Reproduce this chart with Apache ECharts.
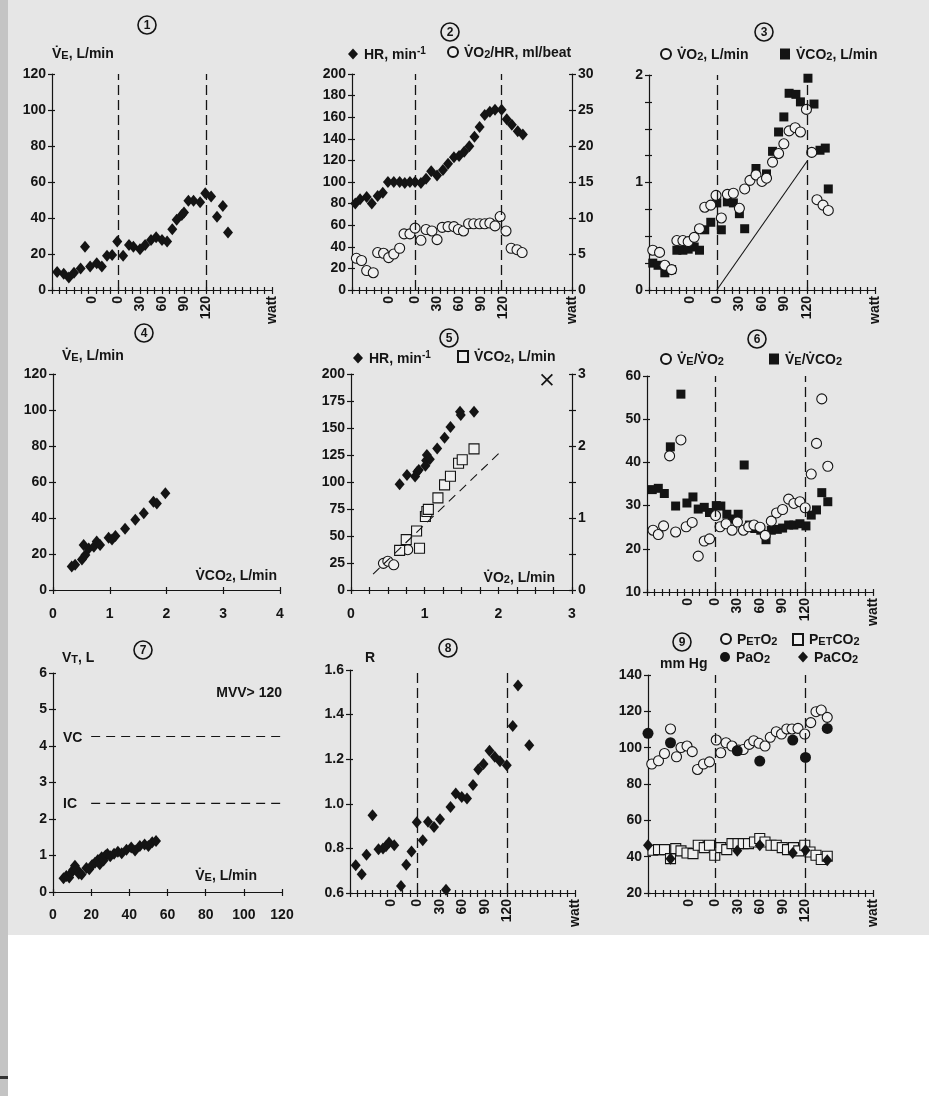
<!DOCTYPE html>
<html>
<head>
<meta charset="utf-8">
<script src="https://cdn.jsdelivr.net/npm/echarts@6/dist/echarts.min.js"></script>
<style>
html, body {margin:0; padding:0; background:#fff;}
#chart {width:929px; height:1096px;}
</style>
</head>
<body>
<div id="chart"></div>
<script>
var FONT = '"Liberation Sans", Arial, Helvetica, sans-serif';
var INK = '#141414';
var PAPER = '#e6e6e6';

// time axes are in tick units (30 ticks), labels show watt
var time_labels = ['0', '0', '30', '60', '90', '120', 'watt'];

// panel 1: VE vs time
var p1_t = [0.7,1.6,2.3,3,3.9,4.5,5.2,6.1,6.8,7.5,8.2,8.9,9.7,10.5,11.1,12,12.7,13.5,14.2,15,15.7,16.4,17,17.7,18,18.6,19.3,20.2,20.9,21.7,22.5,23.3,24];
var p1_ve = [10,9,7,9.6,12,24,13,14.8,13,19,19.4,27,19,25,24,22.6,25,27.8,29.3,27.8,27,33.7,39,41.7,43,49.6,49.6,48.7,53.7,52,40.7,46.7,32];

// panel 2: HR and O2 pulse vs time
var p2_hr_t = [0.45,1.1,2,2.7,3.5,4.2,4.9,5.7,6.5,7.2,7.9,8.6,9.4,10.1,10.8,11.6,12.4,13.1,13.9,14.6,15.3,16,16.7,17.4,18.1,18.8,19.5,20.4,21.1,21.8,22.6,23.3];
var p2_hr = [80,84,86,80,87,90,100,100,100,99,100,100,99,103,110,106,111,117,123,124,128,133,142,151,162,165,167,167,158,153,147,144];
var p2_op_t = [0.6,1.3,2,2.9,3.5,4.3,5,5.7,6.5,7.1,7.9,8.6,9.4,10.1,10.9,11.6,12.3,13.1,13.9,14.5,15.2,15.9,16.6,17.4,18.1,18.8,19.5,20.2,21,21.7,22.5,23.2];
var p2_op = [4.4,4.1,2.7,2.4,5.2,5.1,4.5,5.0,5.8,7.8,7.8,8.6,6.9,8.4,8.2,7.0,8.7,8.8,8.8,8.4,8.2,9.2,9.2,9.2,9.2,9.3,8.9,10.2,8.2,5.8,5.6,5.2];

// panel 3: VO2 and VCO2 vs time
var p3_o2_t = [0.5,1.4,2.1,3,3.7,4.5,5.2,6,6.7,7.4,8.2,8.9,9.6,10.4,11.2,12,12.7,13.4,14.2,15,15.6,16.4,17.2,17.9,18.6,19.4,20.1,20.9,21.6,22.3,23.1,23.8];
var p3_o2 = [0.37,0.35,0.23,0.19,0.46,0.46,0.45,0.49,0.57,0.77,0.79,0.88,0.67,0.89,0.9,0.76,0.94,1.02,1.07,1.01,1.04,1.19,1.27,1.36,1.48,1.51,1.47,1.68,1.28,0.84,0.79,0.74];
var p3_co2_t = [0.5,1.2,2.1,3,3.7,4.5,5.2,6,6.7,7.4,8.2,9,9.6,10.4,11.2,12,12.7,14.2,15.6,16.4,17.2,17.9,18.6,19.5,20.1,21.1,21.9,22.7,23.4,23.8];
var p3_co2 = [0.25,0.23,0.16,0.19,0.37,0.37,0.38,0.4,0.37,0.56,0.63,0.81,0.56,0.82,0.81,0.71,0.57,1.13,1.08,1.29,1.47,1.61,1.83,1.82,1.75,1.97,1.73,1.3,1.32,0.94];
var p3_line_x = [9, 21];
var p3_line_y = [0, 1.2];

// panel 4: VE vs VCO2
var p4_co2 = [0.33,0.39,0.51,0.57,0.54,0.63,0.72,0.77,0.83,0.98,1.04,1.1,1.27,1.45,1.6,1.77,1.83,1.98];
var p4_ve = [13,14,17,19.4,25,23,24,27,25,29,28,30,34,39,42.6,49,48,53.7];

// panel 5: HR and VCO2 vs VO2
var p5_hr_o2 = [0.66,0.76,0.87,0.9,0.92,1.01,1.02,1.03,1.07,1.17,1.27,1.35,1.48,1.49,1.67];
var p5_hr = [98,106.5,105,109.6,111,115,120,125,121,131,141,151,165,162,165];
var p5_co2_o2 = [0.66,0.75,0.89,0.93,1.01,1.03,1.05,1.18,1.27,1.35,1.46,1.51,1.67];
var p5_co2 = [0.55,0.70,0.82,0.58,1.02,1.09,1.12,1.28,1.46,1.58,1.76,1.81,1.96];
var p5_rest_o2 = [0.44,0.5,0.58,0.77];
var p5_rest_co2 = [0.37,0.40,0.35,0.56];
var p5_ref_x = [0.3, 2.03];
var p5_ref_y = [0.22, 1.92];
var p5_cross = [[2.66, 2.92]];

// panel 6: ventilatory equivalents vs time
var p6_o2_t = [0.8,1.5,2.2,3,3.8,4.5,5.2,6,6.8,7.6,8.3,9.1,9.7,10.5,11.3,12,12.8,13.5,14.2,15,15.7,16.5,17.2,18,18.8,19.5,20.3,21,21.8,22.5,23.2,24];
var p6_o2 = [24.3,23.3,25.3,41.5,23.9,45.2,25.1,26.1,18.3,21.8,22.3,27.7,25.1,25.8,24.3,26.2,24.3,25.1,25.5,25,23.1,26.4,28.3,29.1,31.5,30.5,30.9,29.5,37.3,44.4,54.7,39.1];
var p6_co2_t = [0.7,1.5,2.3,3.1,3.8,4.5,5.3,6.1,6.8,7.6,8.3,9.2,9.8,10.6,11.3,12.1,12.9,13.6,14.3,15.1,15.8,16.5,17.3,18,18.8,19.5,20.3,21.1,21.8,22.5,23.2,24];
var p6_co2 = [33.7,34,32.8,43.6,29.9,55.8,30.6,32,29.2,29.6,28.4,30,29.9,28,26.9,28,39.4,25.5,24.7,24.3,22.1,24.3,24.5,24.8,25.5,25.5,25.8,25.3,27.8,29,33,30.9];

// panel 7: VT vs VE
var p7_ve = [5.5,7,8.5,9.5,10.5,11.5,12.5,13.5,15,17.5,19,20.5,22,23.5,24.5,25.5,26.5,27.5,28.5,30,32,34,36,38.5,41,43,45.5,48,50,52,54];
var p7_vt = [0.38,0.44,0.40,0.52,0.60,0.72,0.62,0.50,0.48,0.66,0.62,0.74,0.80,0.88,0.76,0.95,0.86,1.0,1.04,0.98,1.05,1.1,1.06,1.16,1.22,1.14,1.26,1.30,1.26,1.36,1.40];
var p7_vc = 4.26, p7_ic = 2.43;

// panel 8: R vs time
var p8_t = [0.76,1.56,2.2,3,3.8,4.4,4.8,5.2,5.9,6.8,7.5,8.2,8.9,9.7,10.4,11.2,12,12.8,13.4,14.1,14.9,15.6,16.4,17.1,17.8,18.6,19.3,20,20.9,21.7,22.4,23.9];
var p8_r = [0.724,0.684,0.772,0.949,0.796,0.799,0.81,0.826,0.814,0.631,0.727,0.786,0.917,0.837,0.919,0.896,0.931,0.615,0.986,1.046,1.031,1.024,1.084,1.154,1.178,1.238,1.211,1.191,1.173,1.349,1.531,1.263];

// panel 9: gas tensions vs time
var p9_peto2_t = [0.5,1.4,2.2,3,3.8,4.4,5.2,5.9,6.6,7.4,8.2,9.1,9.7,10.4,11.2,12.1,12.7,13.5,14.1,14.8,15.6,16.3,17.1,17.8,18.5,19.2,20,20.9,21.7,22.4,23.1,23.9];
var p9_peto2 = [91,92.8,96.8,110.3,95,100.1,100.9,97.8,88,91,92.2,104.2,97.2,102.7,100.9,98.7,99,101.8,103.8,102.4,100.9,105.7,108.8,107.5,110.3,110.3,110.6,107.5,113.8,119.8,120.7,116.7];
var p9_pao2_t = [0, 3, 11.9, 14.9, 19.3, 21, 23.9];
var p9_pao2 = [107.9, 102.7, 98.3, 92.6, 104.2, 94.6, 110.6];
var p9_petco2_t = [0.66,1.4,2.2,3,3.7,4.4,5.2,6,6.7,7.5,8.2,8.9,9.7,10.5,11.2,12,12.7,13.4,14.2,14.9,15.6,16.4,17.1,17.9,18.6,19.4,20.1,20.9,21.6,22.4,23.1,23.9];
var p9_petco2 = [43.5,43.9,43.9,38.9,44.4,43.2,42,41.7,46.3,45,46.3,40.8,45,43.9,47.2,47.2,47.2,47.2,48.1,50,48.1,46.3,46.3,45,43.9,45,43.2,46.3,42.6,40.8,38.4,40.2];
var p9_paco2_t = [0, 3, 11.9, 14.9, 19.3, 21, 23.9];
var p9_paco2 = [46.3, 38.9, 43.2, 46.3, 42, 43.5, 38];

function pts(xs, ys) {
	var out = [];
	for (var i = 0; i < xs.length; i++) out.push([xs[i], ys[i]]);
	return out;
}

function time_axis(grid_id, zero2) {
	var pos = [zero2 - 3.5, zero2, zero2 + 3, zero2 + 6, zero2 + 9, zero2 + 12, 30];
	return {
		type: 'value', gridIndex: grid_id, min: 0, max: 30, interval: 1, position: 'bottom',
		axisLine: {show: true, onZero: false, lineStyle: {color: INK, width: 1.2}},
		axisTick: {show: true, length: 4, lineStyle: {color: INK, width: 1.2}},
		splitLine: {show: false},
		axisLabel: {
			customValues: pos, rotate: 90, margin: 6, color: INK,
			fontSize: 14, fontWeight: 'bold', fontFamily: FONT,
			formatter: function (v) {
				for (var i = 0; i < pos.length; i++) if (Math.abs(pos[i] - v) < 1e-6) return time_labels[i];
				return '';
			}
		}
	};
}

function val_axis(grid_id, min, max, interval, opts) {
	opts = opts || {};
	var ax = {
		type: 'value', gridIndex: grid_id, min: min, max: max, interval: interval,
		position: opts.position,
		axisLine: {show: true, onZero: false, lineStyle: {color: INK, width: 1.2}},
		axisTick: {show: true, length: 4, lineStyle: {color: INK, width: 1.2}},
		splitLine: {show: false},
		axisLabel: {color: INK, fontSize: 14, fontWeight: 'bold', fontFamily: FONT, margin: opts.margin || 6}
	};
	if (opts.labels) ax.axisLabel.customValues = opts.labels;
	if (opts.fmt) ax.axisLabel.formatter = opts.fmt;
	return ax;
}

// second copy of an axis carrying only the inner half of the ticks, so ticks cross the line
function inner_ticks(ax) {
	return {
		type: 'value', gridIndex: ax.gridIndex, min: ax.min, max: ax.max, interval: ax.interval,
		position: ax.position,
		axisLine: {show: false, onZero: false},
		axisTick: {show: true, inside: true, length: 3, lineStyle: {color: INK, width: 1.2}},
		axisLabel: {show: false},
		splitLine: {show: false}
	};
}

function dash_v(a, b) {
	return {silent: true, symbol: 'none', label: {show: false},
		lineStyle: {color: INK, type: [10, 5], width: 1.3, opacity: 1},
		data: [{xAxis: a}, {xAxis: b}]};
}

var diamond = {symbol: 'diamond', symbolSize: [10, 12], itemStyle: {color: INK, opacity: 1}};
var open_circle = {symbol: 'circle', symbolSize: 10, itemStyle: {color: '#f0f0f0', borderColor: INK, borderWidth: 1.1, opacity: 1}};
var full_rect = {symbol: 'rect', symbolSize: 9, itemStyle: {color: INK, opacity: 1}};
var open_rect = {symbol: 'rect', symbolSize: 10, itemStyle: {color: '#f0f0f0', borderColor: INK, borderWidth: 1.1, opacity: 1}};
var full_circle = {symbol: 'circle', symbolSize: 11, itemStyle: {color: INK, opacity: 1}};

function scatter(name, xi, yi, data, look, extra) {
	var s = {name: name, type: 'scatter', xAxisIndex: xi, yAxisIndex: yi, data: data,
		symbol: look.symbol, symbolSize: look.symbolSize, itemStyle: look.itemStyle};
	if (extra) for (var k in extra) s[k] = extra[k];
	return s;
}

// a: normal text, e: small capitals, s: subscript, u: superscript
var rich_base = {
	a: {fontSize: 14, fontWeight: 'bold', fontFamily: FONT, color: INK, verticalAlign: 'bottom', lineHeight: 16},
	e: {fontSize: 11, fontWeight: 'bold', fontFamily: FONT, color: INK, verticalAlign: 'bottom', lineHeight: 15},
	s: {fontSize: 11, fontWeight: 'bold', fontFamily: FONT, color: INK, verticalAlign: 'bottom', lineHeight: 9},
	u: {fontSize: 10, fontWeight: 'bold', fontFamily: FONT, color: INK, verticalAlign: 'top', lineHeight: 9}
};

var legend_text = {
	p2hr: '{a|HR, min}{u|-1}',
	p2op: '{a|V̇O}{s|2}{a|/HR, ml/beat}',
	p3o2: '{a|V̇O}{s|2}{a|, L/min}',
	p3co2: '{a|V̇CO}{s|2}{a|, L/min}',
	p5hr: '{a|HR, min}{u|-1}',
	p5co2: '{a|V̇CO}{s|2}{a|, L/min}',
	p6o2: '{a|V̇}{e|E}{a|/V̇O}{s|2}',
	p6co2: '{a|V̇}{e|E}{a|/V̇CO}{s|2}',
	p9peto2: '{a|P}{e|ET}{a|O}{s|2}',
	p9petco2: '{a|P}{e|ET}{a|CO}{s|2}',
	p9pao2: '{a|PaO}{s|2}',
	p9paco2: '{a|PaCO}{s|2}'
};

function leg(name, cx, cy) {
	return {
		left: cx - 5, top: cy - 7, padding: 0, itemWidth: 10, itemHeight: 11, itemGap: 0,
		selectedMode: false, data: [name],
		formatter: function (n) { return legend_text[n]; },
		textStyle: {rich: rich_base, padding: [0, 0, 0, 1]}
	};
}

function txt(str, x, y, align, size) {
	return {type: 'text', x: x, y: y, z: 50,
		style: {text: str, rich: rich_base, textAlign: align || 'left', textVerticalAlign: 'middle',
			font: 'bold ' + (size || 14) + 'px ' + FONT, fill: INK}};
}

function circ_num(n, cx, cy) {
	return [
		{type: 'circle', z: 50, shape: {cx: cx, cy: cy, r: 9}, style: {fill: 'none', stroke: INK, lineWidth: 1.6}},
		{type: 'text', z: 51, x: cx, y: cy + 0.5, style: {text: String(n), font: 'bold 12px ' + FONT, fill: INK, textAlign: 'center', textVerticalAlign: 'middle'}}
	];
}

var grids = [
	{left: 52, top: 74, width: 220, height: 216},
	{left: 352, top: 74, width: 220, height: 216},
	{left: 649, top: 75, width: 226, height: 215},
	{left: 53, top: 374, width: 227, height: 216},
	{left: 351, top: 374, width: 221, height: 216},
	{left: 647, top: 376, width: 226, height: 216},
	{left: 53, top: 673, width: 229, height: 219},
	{left: 350, top: 670, width: 225, height: 223},
	{left: 648, top: 675, width: 225, height: 218}
];
for (var g = 0; g < grids.length; g++) grids[g].outerBoundsMode = 'none';

var xAxes = [
	time_axis(0, 9),
	time_axis(1, 8.6),
	time_axis(2, 9),
	val_axis(3, 0, 4, 1, {margin: 17, position: 'bottom'}),
	val_axis(4, 0, 3, 0.25, {margin: 17, position: 'bottom', labels: [0, 1, 2, 3]}),
	time_axis(5, 9),
	val_axis(6, 0, 120, 20, {margin: 16, position: 'bottom'}),
	time_axis(7, 9),
	time_axis(8, 9)
];

var yAxes = [
	val_axis(0, 0, 120, 20, {position: 'left'}),
	val_axis(1, 0, 200, 20, {position: 'left'}),
	val_axis(2, 0, 2, 0.25, {position: 'left', labels: [0, 1, 2]}),
	val_axis(3, 0, 120, 20, {position: 'left'}),
	val_axis(4, 0, 200, 25, {position: 'left'}),
	val_axis(5, 10, 60, 10, {position: 'left'}),
	val_axis(6, 0, 6, 1, {position: 'left'}),
	val_axis(7, 0.6, 1.6, 0.2, {position: 'left', fmt: function (v) { return v.toFixed(1); }}),
	val_axis(8, 20, 140, 20, {position: 'left'}),
	val_axis(1, 0, 30, 5, {position: 'right'}),
	val_axis(4, 0, 3, 0.5, {position: 'right', labels: [0, 1, 2, 3]})
];

var nx = xAxes.length, ny = yAxes.length;
for (var i = 0; i < nx; i++) xAxes.push(inner_ticks(xAxes[i]));
for (var j = 0; j < ny; j++) yAxes.push(inner_ticks(yAxes[j]));

var cross_path = 'path://M0,1L1,0L5,4L9,0L10,1L6,5L10,9L9,10L5,6L1,10L0,9L4,5Z';

var series = [
	scatter('p1ve', 0, 0, pts(p1_t, p1_ve), diamond, {markLine: dash_v(9, 21)}),

	scatter('p2hr', 1, 1, pts(p2_hr_t, p2_hr), diamond, {markLine: dash_v(8.6, 20.3)}),
	scatter('p2op', 1, 9, pts(p2_op_t, p2_op), open_circle),

	{type: 'line', xAxisIndex: 2, yAxisIndex: 2, data: pts(p3_line_x, p3_line_y), symbol: 'none',
		lineStyle: {color: INK, width: 1.1}, silent: true},
	scatter('p3co2', 2, 2, pts(p3_co2_t, p3_co2), full_rect, {markLine: dash_v(9, 21)}),
	scatter('p3o2', 2, 2, pts(p3_o2_t, p3_o2), open_circle),

	scatter('p4ve', 3, 3, pts(p4_co2, p4_ve), diamond),

	{type: 'line', xAxisIndex: 4, yAxisIndex: 10, data: pts(p5_ref_x, p5_ref_y), symbol: 'none',
		lineStyle: {color: INK, width: 1.1, type: [9, 6]}, silent: true},
	scatter('p5rest', 4, 10, pts(p5_rest_o2, p5_rest_co2), open_circle),
	scatter('p5co2', 4, 10, pts(p5_co2_o2, p5_co2), open_rect),
	scatter('p5hr', 4, 4, pts(p5_hr_o2, p5_hr), diamond),
	{type: 'scatter', xAxisIndex: 4, yAxisIndex: 10, data: p5_cross, symbol: cross_path, symbolSize: 12, itemStyle: {color: INK, opacity: 1}},

	scatter('p6co2', 5, 5, pts(p6_co2_t, p6_co2), full_rect, {markLine: dash_v(9, 21)}),
	scatter('p6o2', 5, 5, pts(p6_o2_t, p6_o2), open_circle),

	{type: 'line', xAxisIndex: 6, yAxisIndex: 6, data: [[20, p7_vc], [120, p7_vc]], symbol: 'none',
		lineStyle: {color: INK, width: 1.2, type: [9, 6]}, silent: true},
	{type: 'line', xAxisIndex: 6, yAxisIndex: 6, data: [[20, p7_ic], [120, p7_ic]], symbol: 'none',
		lineStyle: {color: INK, width: 1.2, type: [9, 6]}, silent: true},
	scatter('p7vt', 6, 6, pts(p7_ve, p7_vt), diamond),

	scatter('p8r', 7, 7, pts(p8_t, p8_r), diamond, {markLine: dash_v(9, 20.9)}),

	scatter('p9petco2', 8, 8, pts(p9_petco2_t, p9_petco2), open_rect, {markLine: dash_v(9, 20.9)}),
	scatter('p9peto2', 8, 8, pts(p9_peto2_t, p9_peto2), open_circle),
	scatter('p9pao2', 8, 8, pts(p9_pao2_t, p9_pao2), full_circle),
	scatter('p9paco2', 8, 8, pts(p9_paco2_t, p9_paco2), diamond)
];

var legends = [
	leg('p2hr', 353, 53), leg('p2op', 452, 53),
	leg('p3o2', 665, 55), leg('p3co2', 785, 55),
	leg('p5hr', 358, 357), leg('p5co2', 462, 357),
	leg('p6o2', 665, 360), leg('p6co2', 774, 360),
	leg('p9peto2', 725, 640), leg('p9petco2', 797, 640),
	leg('p9pao2', 725, 658), leg('p9paco2', 803, 658)
];

var graphics = [
	{type: 'rect', z: -10, shape: {x: 0, y: 0, width: 929, height: 935}, style: {fill: PAPER}},
	{type: 'rect', z: -9, shape: {x: 0, y: 0, width: 8, height: 1096}, style: {fill: '#c4c4c4'}},
	{type: 'rect', z: -8, shape: {x: 0, y: 1076, width: 8, height: 3}, style: {fill: '#333'}},
	txt('{a|V̇}{e|E}{a|, L/min}', 52, 53),
	txt('{a|V̇}{e|E}{a|, L/min}', 62, 355),
	txt('{a|V̇CO}{s|2}{a|, L/min}', 277, 575, 'right'),
	txt('{a|V̇O}{s|2}{a|, L/min}', 555, 577, 'right'),
	txt('{a|V}{e|T}{a|, L}', 62, 657),
	txt('{a|MVV> 120}', 282, 692, 'right'),
	txt('{a|VC}', 63, 737),
	txt('{a|IC}', 63, 803),
	txt('{a|V̇}{e|E}{a|, L/min}', 257, 875, 'right'),
	txt('{a|R}', 365, 657),
	txt('{a|mm Hg}', 660, 663)
];
var nums = [[1, 147, 25], [2, 450, 32], [3, 764, 32], [4, 144, 333], [5, 449, 338], [6, 757, 339], [7, 143, 650], [8, 448, 648], [9, 682, 642]];
for (var k = 0; k < nums.length; k++) graphics = graphics.concat(circ_num(nums[k][0], nums[k][1], nums[k][2]));

var myChart = echarts.init(document.getElementById('chart'), null, {renderer: 'canvas'});
myChart.setOption({
	backgroundColor: '#ffffff',
	animation: false,
	textStyle: {fontFamily: FONT},
	grid: grids,
	xAxis: xAxes,
	yAxis: yAxes,
	legend: legends,
	series: series,
	graphic: {elements: graphics}
});
</script>
</body>
</html>
